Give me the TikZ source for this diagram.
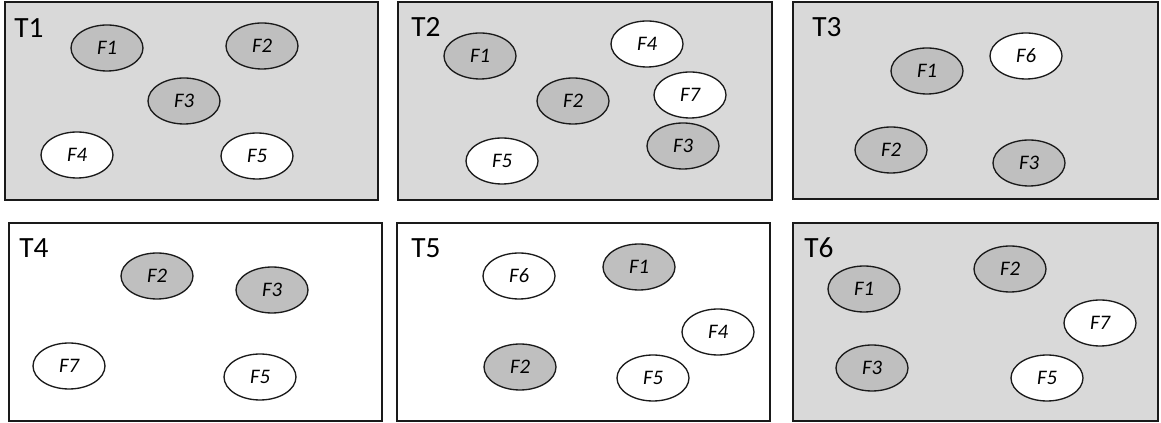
\documentclass[tikz,border=0pt]{standalone}
\usepackage{fontspec}
\setmainfont{Carlito}
\usetikzlibrary{shapes.geometric}
\definecolor{panelgray}{HTML}{D9D9D9}
\definecolor{ellgray}{HTML}{BFBFBF}
\definecolor{edge}{HTML}{1A1A1A}
\tikzset{
  panel/.style={draw=edge, line width=1pt},
  gpanel/.style={panel, fill=panelgray},
  wpanel/.style={panel, fill=white},
  ell/.style={ellipse, draw=edge, line width=1pt, minimum width=54pt, minimum height=34.5pt, inner sep=0pt, font=\fontsize{15.5pt}{17pt}\selectfont\itshape},
  gell/.style={ell, fill=ellgray},
  well/.style={ell, fill=white},
  tlabel/.style={anchor=west, inner sep=0pt, font=\fontsize{22pt}{24pt}\selectfont}
}
\begin{document}
\begin{tikzpicture}[x=0.75pt,y=-0.75pt]
\useasboundingbox (0,0) rectangle (1161,423);
% panels
\draw[gpanel] (5,2) rectangle (378,200);
\draw[gpanel] (398,2) rectangle (772,200);
\draw[gpanel] (793,2) rectangle (1158,199);
\draw[wpanel] (9,223) rectangle (382,421);
\draw[wpanel] (397,223) rectangle (770,421);
\draw[gpanel] (793,223) rectangle (1158,421);
% labels
\node[tlabel] (t1) at (14,28) {T1};
\node[tlabel] (t2) at (411,27) {T2};
\node[tlabel] (t3) at (812,27) {T3};
\node[tlabel] (t4) at (19,248) {T4};
\node[tlabel] (t5) at (411,248) {T5};
\node[tlabel] (t6) at (804,248) {T6};
% T1
\node[gell] (a1) at (107,48) {F1};
\node[gell] (a2) at (262,46) {F2};
\node[gell] (a3) at (184,101) {F3};
\node[well] (a4) at (77,155) {F4};
\node[well] (a5) at (257,156) {F5};
% T2
\node[gell] (b1) at (480,56) {F1};
\node[well] (b4) at (647,44) {F4};
\node[gell] (b2) at (573,101) {F2};
\node[well] (b7) at (690,95) {F7};
\node[gell] (b3) at (683,146) {F3};
\node[well] (b5) at (502,161) {F5};
% T3
\node[gell] (c1) at (927,71) {F1};
\node[well] (c6) at (1026,56) {F6};
\node[gell] (c2) at (891,150) {F2};
\node[gell] (c3) at (1029,163) {F3};
% T4
\node[gell] (d2) at (157,276) {F2};
\node[gell] (d3) at (272,290) {F3};
\node[well] (d7) at (69,366) {F7};
\node[well] (d5) at (260,377) {F5};
% T5
\node[well] (e6) at (519,276) {F6};
\node[gell] (e1) at (639,267) {F1};
\node[well] (e4) at (718,332) {F4};
\node[gell] (e2) at (520,367) {F2};
\node[well] (e5) at (653,378) {F5};
% T6
\node[gell] (f2) at (1010,269) {F2};
\node[gell] (f1) at (864,289) {F1};
\node[well] (f7) at (1100,323) {F7};
\node[gell] (f3) at (872,368) {F3};
\node[well] (f5) at (1047,378) {F5};
\end{tikzpicture}
\end{document}
